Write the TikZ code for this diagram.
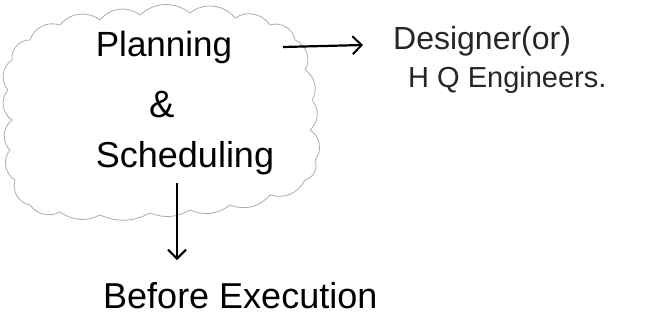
\documentclass[tikz,border=0pt]{standalone}
\usepackage{fontspec}
\setmainfont{Liberation Sans}
\usetikzlibrary{arrows.meta}
\tikzset{
  hand/.style={font=\fontsize{#1}{#1}\selectfont, inner sep=0pt, text=black},
  cloudline/.style={draw=gray!65, line width=0.8pt, line join=round},
  conn/.style={line width=2.2pt, -{Straight Barb[length=9pt,width=18pt,line width=2pt]}},
}
\begin{document}
\begin{tikzpicture}[x=1pt,y=-1pt]
\useasboundingbox (0,0) rectangle (645,329);
% cloud outline
\draw[cloudline] (30,40) to[bend left=45] (60,25) to[bend left=45] (100,20) to[bend left=45] (140,15)
  to[bend left=40] (190,13) to[bend left=45] (235,18) to[bend left=45] (270,25) to[bend left=50] (295,40)
  to[bend left=50] (305,70) to[bend left=45] (312,100) to[bend left=45] (310,130) to[bend left=50] (315,160)
  to[bend left=50] (305,180) to[bend left=40] (270,195) to[bend left=35] (230,205) to[bend left=30] (190,210)
  to[bend left=25] (150,213) to[bend left=25] (100,215) to[bend left=30] (60,212) to[bend left=40] (30,205)
  to[bend left=50] (15,180) to[bend left=50] (10,150) to[bend left=50] (12,120) to[bend left=50] (8,90)
  to[bend left=50] (12,60) to[bend left=50] cycle;
% texts
\node[hand=35, anchor=base] (plan) at (164,57) {Planning};
\node[hand=38, anchor=base] (amp) at (162,117) {\&};
\node[hand=36, anchor=base] (sched) at (185,167) {Scheduling};
\node[hand=32, anchor=base west, text=black!85] (des) at (393,50) {Designer(or)};
\node[hand=29, anchor=base west, text=black!85] (hq) at (408,88) {H Q Engineers.};
\node[hand=36, anchor=base west] (before) at (103,308) {Before Execution};
% connectors
\coordinate (cloudE) at (283,47);
\coordinate (tipR) at (363,45);
\coordinate (cloudS) at (177,183);
\coordinate (tipS) at (177,260);
\draw[conn] (cloudE) -- (tipR);
\draw[conn] (cloudS) -- (tipS);
\end{tikzpicture}
\end{document}
